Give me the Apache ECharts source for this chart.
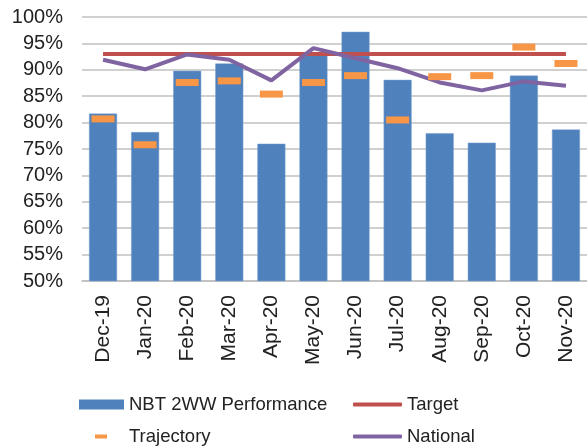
<!DOCTYPE html>
<html>
<head>
<meta charset="utf-8">
<script src="https://cdn.jsdelivr.net/npm/echarts@6/dist/echarts.min.js"></script>
<style>
  html, body { margin: 0; padding: 0; background: #fff; }
  #chart { width: 587px; height: 446px; }
</style>
</head>
<body>
<div id="chart"></div>
<script>
const months = ['Dec-19', 'Jan-20', 'Feb-20', 'Mar-20', 'Apr-20', 'May-20',
                'Jun-20', 'Jul-20', 'Aug-20', 'Sep-20', 'Oct-20', 'Nov-20'];
const performance = [81.7, 78.2, 89.8, 91.2, 76.0, 93.0, 97.2, 88.1, 78.0, 76.2, 88.9, 78.7];
const target = [93, 93, 93, 93, 93, 93, 93, 93, 93, 93, 93, 93];
const trajectory = [80.7, 75.8, 87.6, 87.9, 85.4, 87.6, 88.9, 80.5, 88.7, 88.9, 94.3, 91.2];
const national = [91.9, 90.1, 92.9, 91.9, 88.0, 94.1, 92.2, 90.3, 87.6, 86.1, 87.8, 87.0];

const chart = echarts.init(document.getElementById('chart'));
const font = 'Liberation Sans, Arial, sans-serif';
const legendText = { fontFamily: font, fontSize: 18.5, color: '#222' };

const option = {
    animation: false,
    grid: { left: 82, right: 0, top: 17, bottom: 165 },
    legend: [
        {
            left: 74, top: 390, itemWidth: 45, itemHeight: 10, itemGap: 0,
            textStyle: legendText,
            itemStyle: { borderWidth: 0 },
            data: [{ name: 'NBT 2WW Performance', icon: 'rect' }]
        },
        {
            left: 348, top: 390, itemWidth: 49, itemHeight: 4, itemGap: 0,
            textStyle: legendText,
            data: [{ name: 'Target', icon: 'roundRect' }]
        },
        {
            left: 90, top: 422, itemWidth: 12, itemHeight: 4, itemGap: 0,
            textStyle: Object.assign({ padding: [0, 0, 0, 17] }, legendText),
            data: [{ name: 'Trajectory', icon: 'rect' }]
        },
        {
            left: 348, top: 422, itemWidth: 49, itemHeight: 4, itemGap: 0,
            textStyle: legendText,
            data: [{ name: 'National', icon: 'roundRect' }]
        }
    ],
    xAxis: {
        type: 'category',
        data: months,
        axisLine: { lineStyle: { color: '#bfbfbf', width: 1.5 } },
        axisTick: { show: false },
        axisLabel: {
            rotate: 90, margin: 14, interval: 0,
            fontFamily: font, fontSize: 21, color: '#222'
        }
    },
    yAxis: {
        type: 'value',
        min: 50, max: 100, interval: 5,
        axisLine: { show: false },
        axisTick: { show: false },
        splitLine: { lineStyle: { color: '#c0c0c0', width: 1.5 } },
        axisLabel: {
            margin: 19,
            fontFamily: font, fontSize: 20, color: '#222',
            formatter: '{value}%'
        }
    },
    series: [
        {
            name: 'NBT 2WW Performance',
            type: 'bar',
            data: performance,
            barWidth: 28,
            itemStyle: { color: '#4f81bd', borderColor: '#7aa0cf', borderWidth: 0.5 }
        },
        {
            name: 'Target',
            type: 'line',
            data: target,
            symbol: 'none',
            lineStyle: { color: '#c0504d', width: 4 },
            itemStyle: { color: '#c0504d' }
        },
        {
            name: 'National',
            type: 'line',
            data: national,
            symbol: 'none',
            lineStyle: { color: '#8064a2', width: 4 },
            itemStyle: { color: '#8064a2' }
        },
        {
            name: 'Trajectory',
            type: 'scatter',
            data: trajectory,
            symbol: 'rect',
            symbolSize: [23, 7],
            itemStyle: { color: '#f79646', opacity: 1 },
            z: 5
        }
    ]
};
chart.setOption(option);
</script>
</body>
</html>
